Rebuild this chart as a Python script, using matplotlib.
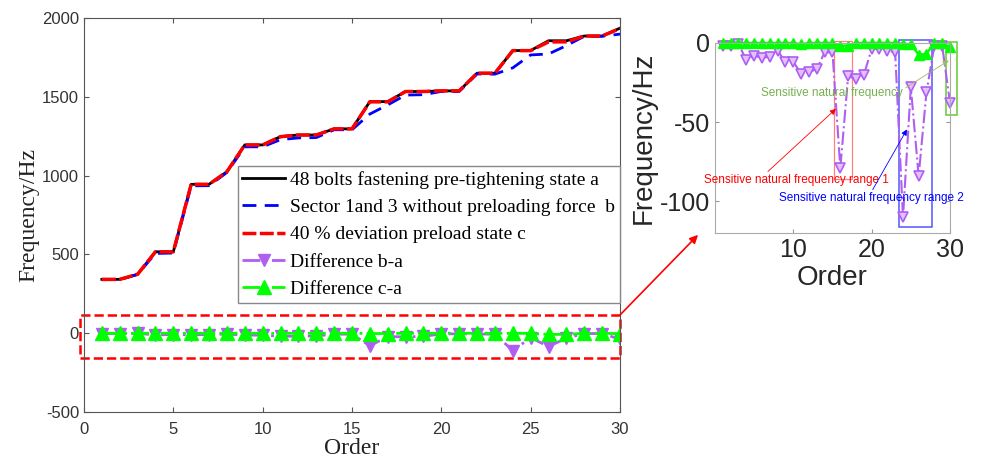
import numpy as np
import matplotlib.pyplot as plt
from matplotlib.patches import Rectangle, ConnectionPatch

plt.rcParams['axes.unicode_minus'] = False

# Data
order = np.arange(1, 31)
freq_a = [342, 342, 374, 517, 517, 945, 945, 1025, 1195, 1195,
          1248, 1258, 1258, 1297, 1297, 1470, 1470, 1534, 1534, 1538,
          1538, 1650, 1650, 1794, 1794, 1856, 1856, 1886, 1886, 1936]
diff_ba = [-2, -1.7, -0.6, -10.7, -8, -9.5, -8.6, -4.8, -12.2, -11.8,
           -19.5, -18.5, -16.4, -5.9, -5.9, -79, -21, -22.7, -20.2, -3.8,
           -3.8, -4.8, -5.9, -110, -28, -84, -31, -1.7, -1.7, -37.8]
diff_ca = [0, 0, 0, 0, 0, 0, 0, 0, 0, 0,
           -0.8, 0, 0, 0, 0, -1.7, -1.7, 0, 0, 0,
           0, 0, 0, -0.6, -0.6, -7.5, -6.9, 0, 0, -2.7]
freq_b = np.array(freq_a) + np.array(diff_ba)
freq_c = np.array(freq_a) + np.array(diff_ca)

labels = ['48 bolts fastening pre-tightening state a',
          'Sector 1and 3 without preloading force  b',
          '40 % deviation preload state c',
          'Difference b-a',
          'Difference c-a']

purple = '#b05ef2'
green = '#00ff00'
serif = 'Liberation Serif'
sans = 'Liberation Sans'

fig = plt.figure(figsize=(9.81, 4.63), dpi=100)

## Main axes ##
ax = fig.add_axes([0.0856, 0.110, 0.5464, 0.851])
ax.plot(order, freq_a, color='black', lw=2, label=labels[0])
ax.plot(order, freq_b, color='blue', lw=2, dashes=(5, 3), label=labels[1])
ax.plot(order, freq_c, color='red', lw=2.5, dashes=(4, 1), label=labels[2])
ax.plot(order, diff_ba, color=purple, lw=2, linestyle='-.', marker='v',
        markersize=8, label=labels[3])
ax.plot(order, diff_ca, color=green, lw=2, linestyle='-.', marker='^',
        markersize=10, label=labels[4])

ax.set_xlim(0, 30)
ax.set_ylim(-500, 2000)
ax.set_xticks(np.arange(0, 31, 5))
ax.set_yticks(np.arange(-500, 2001, 500))
ax.tick_params(direction='in', top=True, right=True, labelsize=12,
               labelcolor='#333333', color='#555555')
ax.tick_params(axis='x', pad=7)
for lab in ax.get_xticklabels() + ax.get_yticklabels():
    lab.set_family(sans)
for s in ax.spines.values():
    s.set_color('#555555')
ax.set_xlabel('Order', fontsize=17, family=serif, labelpad=1, color='#222222')
ax.set_ylabel('Frequency/Hz', fontsize=17, family=serif, labelpad=2, color='#222222')

leg = ax.legend(loc='upper right', bbox_to_anchor=(1.0, 0.625), fancybox=False,
                edgecolor='#888888', framealpha=1, borderaxespad=0,
                prop={'family': serif, 'size': 14}, labelspacing=0.5,
                handlelength=2.2, handletextpad=0.25, borderpad=0.25)
leg.get_frame().set_linewidth(1)

# red dashed box around the differences
ax.add_patch(Rectangle((-0.2, -155), 30.2, 271, fill=False, edgecolor='red',
                       lw=1.8, linestyle='--', clip_on=False))

## Inset axes ##
ax2 = fig.add_axes([0.7288, 0.4968, 0.2396, 0.4104])
ax2.plot(order, diff_ba, color=purple, lw=1.5, linestyle='-.', marker='v',
         markersize=7, markerfacecolor='#e0c0ff', markeredgewidth=1.2, clip_on=False)
ax2.plot(order, diff_ca, color=green, lw=1.8, linestyle='-', marker='^',
         markersize=7, markerfacecolor=green, markeredgewidth=1, clip_on=False)
ax2.set_xlim(0, 30)
ax2.set_ylim(-120, 0)
ax2.set_xticks([10, 20, 30])
ax2.set_yticks([-100, -50, 0])
ax2.tick_params(direction='in', top=True, right=True, labelsize=18,
                labelcolor='#262626', color='#999999', length=3)
for lab in ax2.get_xticklabels() + ax2.get_yticklabels():
    lab.set_family(sans)
for s in ax2.spines.values():
    s.set_color('#aaaaaa')
ax2.set_xlabel('Order', fontsize=20, family=sans, color='#262626', labelpad=2)
ax2.set_ylabel('Frequency/Hz', fontsize=20, family=sans, color='#262626', labelpad=2)

# sensitive ranges
ax2.add_patch(Rectangle((15.22, -86), 2.26, 87.4, fill=False, edgecolor='#ff8080',
                        lw=0.9, clip_on=False))
ax2.add_patch(Rectangle((23.5, -116), 4.26, 117.9, fill=False, edgecolor='#5555ff',
                        lw=1.1, clip_on=False))
ax2.add_patch(Rectangle((29.45, -45.4), 1.4, 46.2, fill=False, edgecolor='#66cc33',
                        lw=1.1, clip_on=False))

ax2.annotate('Sensitive natural frequency range 1', xy=(15.44, -41.6), xytext=(-1.41, -86.7),
             color='red', fontsize=8.5, family=sans, va='center', ha='left',
             annotation_clip=False,
             arrowprops=dict(arrowstyle='-|>', color='red', lw=0.6, shrinkA=0, shrinkB=0,
                             relpos=(0.33, 1.0)))
ax2.annotate('Sensitive natural frequency range 2', xy=(24.5, -54.6), xytext=(8.14, -98.2),
             color='blue', fontsize=8.5, family=sans, va='center', ha='left',
             annotation_clip=False,
             arrowprops=dict(arrowstyle='-|>', color='blue', lw=0.6, shrinkA=0, shrinkB=0,
                             relpos=(0.5, 1.0)))
ax2.annotate('Sensitive natural frequency', xy=(29.84, -11.1), xytext=(5.88, -31.7),
             color='#77b050', fontsize=8.5, family=sans, va='center', ha='left',
             annotation_clip=False,
             arrowprops=dict(arrowstyle='-|>', color='#99bb66', lw=0.6, shrinkA=0, shrinkB=0,
                             relpos=(1.0, 0.8)))

# arrow from the main box to the inset
con = ConnectionPatch(xyA=(30, 116), coordsA=ax.transData,
                      xyB=(-0.072, -0.01), coordsB=ax2.transAxes,
                      arrowstyle='-|>', color='red', lw=1.2, mutation_scale=12)
fig.add_artist(con)

plt.savefig('out.png', dpi=100, facecolor='white')
